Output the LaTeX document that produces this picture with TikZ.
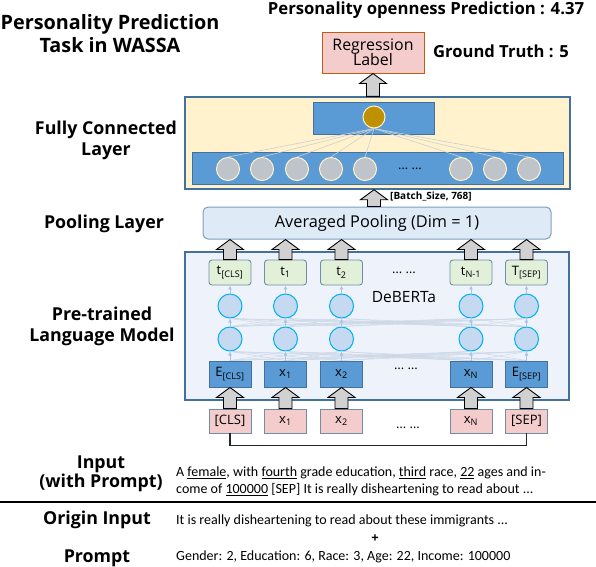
\documentclass[tikz,border=0pt]{standalone}
\usepackage{fontspec}
\setmainfont{Open Sans}
\newfontfamily\bodyfont{Carlito}
\usetikzlibrary{calc,arrows.meta}
\definecolor{fcbg}{HTML}{FFF2CC}
\definecolor{bord}{HTML}{41719C}
\definecolor{blu}{HTML}{5B9BD5}
\definecolor{gold}{HTML}{BF9000}
\definecolor{grayc}{HTML}{BFC4CA}
\definecolor{poolbg}{HTML}{DEEBF7}
\definecolor{poolbd}{HTML}{7F9DBF}
\definecolor{plmbg}{HTML}{EEF3FB}
\definecolor{tbg}{HTML}{E2F0D9}
\definecolor{tbd}{HTML}{6F8FA8}
\definecolor{pinkbg}{HTML}{F4CCCC}
\definecolor{regbd}{HTML}{C55A11}
\definecolor{circbg}{HTML}{C5D9F0}
\definecolor{circbd}{HTML}{00B0F0}
\definecolor{conn}{HTML}{CCD7E6}
\definecolor{varr}{HTML}{A9C4E4}
\tikzset{
  hd/.style={font=\bfseries\fontsize{17.8}{21}\selectfont, align=center},
  fcouter/.style={draw=bord, line width=1.4pt, fill=fcbg, minimum width=385pt, minimum height=92pt},
  bluebox/.style={draw=bord, line width=0.8pt, fill=blu, inner sep=0pt},
  goldc/.style={circle, draw=fcbg, line width=1pt, fill=gold, minimum size=22pt, inner sep=0pt},
  grayci/.style={circle, draw=fcbg, line width=1pt, fill=grayc, minimum size=23pt, inner sep=0pt},
  fanline/.style={draw=grayc!80, line width=0.6pt},
  poolbox/.style={draw=poolbd, line width=1pt, fill=poolbg, rounded corners=5pt, minimum width=348pt, minimum height=32pt, font=\fontsize{16.3}{19}\selectfont},
  plmbox/.style={draw=bord, line width=1.4pt, fill=plmbg, minimum width=384pt, minimum height=148pt},
  tbox/.style={draw=tbd, line width=0.9pt, fill=tbg, rounded corners=3pt, minimum width=42pt, minimum height=25pt, inner sep=0pt, font=\fontsize{13}{15}\selectfont},
  ebox/.style={draw=bord, line width=0.9pt, fill=blu, minimum width=42pt, minimum height=26pt, inner sep=0pt, font=\fontsize{13}{15}\selectfont},
  inbox/.style={draw=tbd, line width=0.9pt, fill=pinkbg, minimum width=42pt, minimum height=24pt, inner sep=0pt, font=\fontsize{13}{15}\selectfont},
  regbox/.style={draw=regbd, line width=1pt, fill=pinkbg, minimum width=102pt, minimum height=41pt, align=center, font=\fontsize{15.9}{17}\selectfont},
  bcirc/.style={circle, draw=circbd, line width=1pt, fill=circbg, minimum size=24pt, inner sep=0pt},
  cline/.style={draw=conn, line width=0.5pt},
  varrow/.style={draw=varr, line width=0.8pt, -{Latex[length=4pt,width=4pt]}},
  barrowst/.style={draw=black, line width=0.9pt, fill=black!18, line join=miter},
  dotsst/.style={font=\fontsize{13}{15}\selectfont},
  bodyst/.style={font=\bodyfont\fontsize{14}{16}\selectfont, anchor=west, inner sep=0pt},
}
\newcommand\barrow[2]{\path[barrowst] let \p1=(#1), \p2=(#2) in
  (\x1-6.5pt,\y1) -- (\x1-6.5pt,\y2-10pt) -- (\x1-13.5pt,\y2-10pt) -- (\x1,\y2) -- (\x1+13.5pt,\y2-10pt) -- (\x1+6.5pt,\y2-10pt) -- (\x1+6.5pt,\y1) -- cycle;}
\begin{document}
\begin{tikzpicture}[x=1pt,y=-1pt]
\useasboundingbox (0,0) rectangle (596,566);
% titles
\node[hd, font=\bfseries\fontsize{19.8}{23}\selectfont] (title) at (110,34) {Personality Prediction\\Task in WASSA};
\node[font=\bfseries\fontsize{16.7}{19}\selectfont] (pred) at (426,10) {Personality openness Prediction : 4.37};
\node[font=\bfseries\fontsize{16.6}{19}\selectfont] (gt) at (501,51) {Ground Truth : 5};
\node[regbox] (reg) at (373,52.5) {Regression\\[-2pt]Label};
% left labels
\node[hd] (lfc) at (106,140.5) {Fully Connected\\Layer};
\node[hd] (lpool) at (104,224) {Pooling Layer};
\node[hd] (lplm) at (102,326.5) {Pre-trained\\Language Model};
% FC layer
\node[fcouter] (fc) at (377.5,143) {};
\node[bluebox, minimum width=121pt, minimum height=32pt] (top) at (373.5,118) {};
\node[bluebox, minimum width=371pt, minimum height=32pt] (bar) at (377.5,168) {};
\node[goldc] (gold) at (374,117) {};
\foreach \i/\x in {1/228,2/262,3/297,4/331,5/365,6/461,7/495,8/529} {
  \node[grayci] (g\i) at (\x,169) {};
}
\foreach \i in {1,...,8} { \draw[fanline] (gold.south) -- (g\i.north); }
\node[dotsst] (fcdots) at (410,169) {… …};
\barrow{fc.north -| reg.south}{reg.south}
% pooling
\node[poolbox] (pool) at (377,223) {Averaged Pooling (Dim = 1)};
\barrow{pool.north -| gold}{fc.south}
\node[font=\bfseries\fontsize{10}{12}\selectfont, anchor=west, inner sep=0pt] (bs) at (390,196) {[Batch\_Size, 768]};
% PLM
\node[plmbox] (plm) at (377,326) {};
\node[font=\fontsize{15.5}{18}\selectfont] (deb) at (404,297) {DeBERTa};
\foreach \i/\x/\t/\e/\n in {
  1/230/t\textsubscript{[CLS]}/E\textsubscript{[CLS]}/[CLS],
  2/285.5/t\textsubscript{1}/x\textsubscript{1}/x\textsubscript{1},
  3/341.5/t\textsubscript{2}/x\textsubscript{2}/x\textsubscript{2},
  4/471/t\textsubscript{N-1}/x\textsubscript{N}/x\textsubscript{N},
  5/526.5/T\textsubscript{[SEP]}/E\textsubscript{[SEP]}/[SEP]} {
  \node[tbox] (t\i) at (\x,272.5) {\t};
  \node[bcirc] (u\i) at (\x,306) {};
  \node[bcirc] (l\i) at (\x,339) {};
  \node[ebox] (e\i) at (\x,374) {\e};
  \node[inbox] (in\i) at (\x,421) {\n};
}
\foreach \i in {1,...,5} {
  \foreach \j in {1,...,5} {
    \draw[cline] (l\i.north) -- (u\j.south);
    \draw[cline] (e\i.north) -- (l\j.south);
  }
}
\foreach \i in {1,...,5} {
  \draw[varrow] (e\i.north) -- (l\i.south);
  \draw[varrow] (l\i.north) -- (u\i.south);
  \draw[varrow] (u\i.north) -- (t\i.south);
  \barrow{t\i.north}{pool.south}
  \barrow{in\i.north}{e\i.south}
}
\node[dotsst] (tdots) at (404,273) {… …};
\node[dotsst] (edots) at (406,369) {… …};
\node[dotsst] (indots) at (408,428) {… …};
\draw[line width=1.2pt, black!85] (in1.south) -- ++(0,12) -| (in5.south);
% bottom text
\node[hd, font=\bfseries\fontsize{17.8}{19}\selectfont] (linput) at (101,474) {Input\\(with Prompt)};
\node[bodyst] (b1) at (176,473) {A \underline{female}, with \underline{fourth} grade education, \underline{third} race, \underline{22} ages and in-};
\node[bodyst] (b2) at (176,490) {come of \underline{100000} [SEP] It is really disheartening to read about ...};
\coordinate (rl) at (0,502);
\coordinate (rr) at (596,502);
\draw[line width=1.3pt] (rl) -- (rr);
\node[hd] (lorig) at (97,520) {Origin Input};
\node[hd] (lprompt) at (97,558) {Prompt};
\node[bodyst] (b3) at (176,521) {It is really disheartening to read about these immigrants ...};
\node[font=\bfseries\fontsize{13}{15}\selectfont] (plus) at (375,539) {+};
\node[bodyst] (b4) at (176,557) {Gender: 2, Education: 6, Race: 3, Age: 22, Income: 100000};
\end{tikzpicture}
\end{document}
